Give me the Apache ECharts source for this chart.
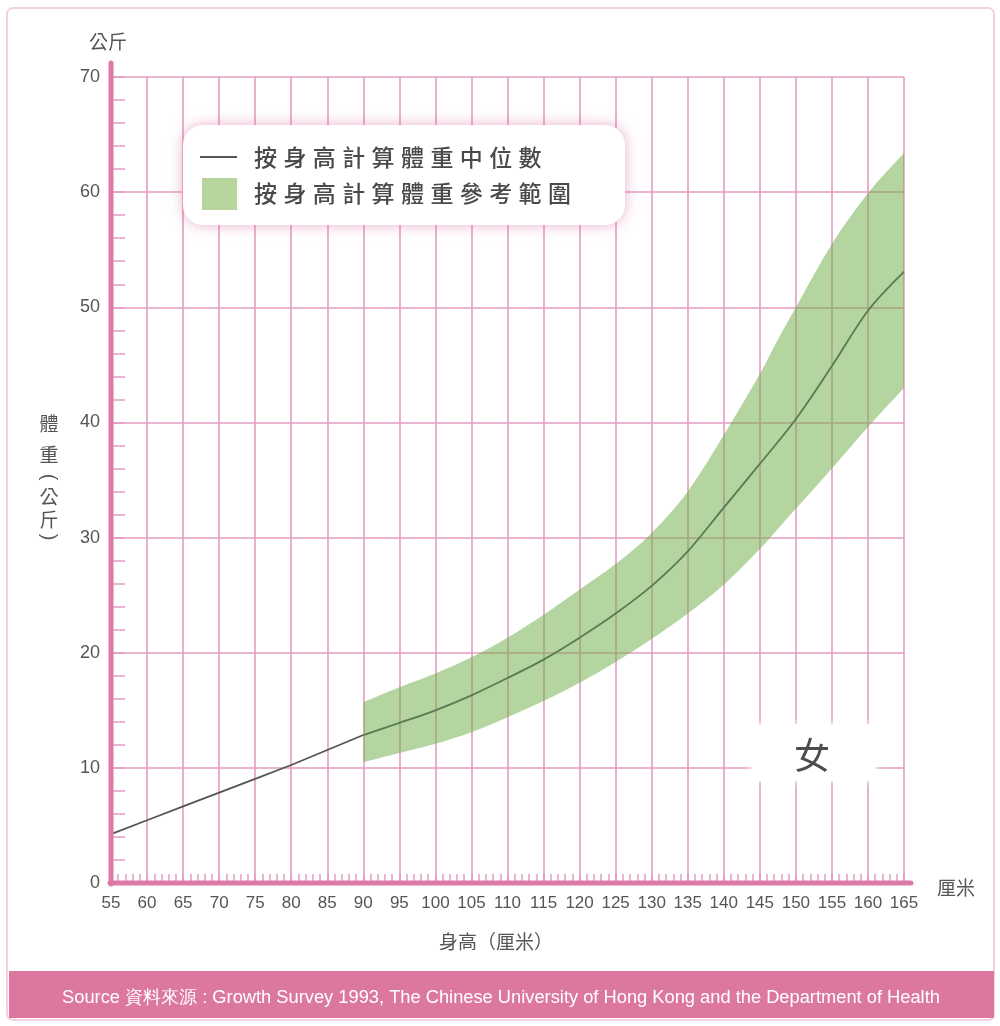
<!DOCTYPE html>
<html>
<head>
<meta charset="utf-8">
<script src="https://cdn.jsdelivr.net/npm/echarts@6/dist/echarts.min.js"></script>
<style>
  html, body { margin: 0; padding: 0; background: #fff; }
  #chart { width: 1000px; height: 1026px; }
</style>
</head>
<body>
<div id="chart"></div>
<script>
// 按身高計算體重中位數（女）
const medianHeights = [55, 60, 65, 70, 75, 80, 85, 90, 95, 100, 105, 110, 115, 120, 125, 130, 135, 140, 145, 150, 155, 160, 165]
const medianWeights = [4.25, 5.45, 6.65, 7.85, 9.05, 10.25, 11.55, 12.85, 13.9, 15.0, 16.3, 17.8, 19.4, 21.3, 23.4, 25.8, 28.8, 32.6, 36.4, 40.3, 44.9, 49.7, 53.1]

// 參考範圍 上下限
const bandHeights = [90, 95, 100, 105, 110, 115, 120, 125, 130, 135, 140, 145, 147, 150, 155, 160, 165]
const bandLower = [10.5, 11.3, 12.1, 13.1, 14.4, 15.8, 17.4, 19.2, 21.2, 23.4, 25.9, 29.0, 30.4, 32.5, 36.0, 39.6, 43.0]
const bandUpper = [15.7, 17.0, 18.2, 19.6, 21.3, 23.3, 25.5, 27.7, 30.4, 34.0, 38.9, 44.2, 46.6, 50.0, 55.5, 59.9, 63.4]

const legendNames = ['按身高計算體重中位數', '按身高計算體重參考範圍']
const sourceText = 'Source 資料來源 : Growth Survey 1993, The Chinese University of Hong Kong and the Department of Health'

const PINK = '#e59cc1'
const PINK_DARK = '#dc7aa6'
const TEXT = '#555'
const CJK = '"Noto Sans CJK TC", "Noto Sans CJK SC", sans-serif'
const NUM = '"Liberation Sans", Arial, sans-serif'

const chart = echarts.init(document.getElementById('chart'))

// 中位數線：90厘米前灰色直線，之後深綠曲線
const splitAt = medianHeights.indexOf(90)
const medianPts = medianHeights.map((h, i) => [h, medianWeights[i]])

// Catmull-Rom 轉貝茲曲線（像素座標）
function curveTo(pts) {
  let d = ''
  for (let i = 0; i < pts.length - 1; i++) {
    const p0 = pts[i - 1] || pts[i]
    const p1 = pts[i]
    const p2 = pts[i + 1]
    const p3 = pts[i + 2] || p2
    const c1 = [p1[0] + (p2[0] - p0[0]) / 6, p1[1] + (p2[1] - p0[1]) / 6]
    const c2 = [p2[0] - (p3[0] - p1[0]) / 6, p2[1] - (p3[1] - p1[1]) / 6]
    d += ' C' + c1.join(' ') + ' ' + c2.join(' ') + ' ' + p2.join(' ')
  }
  return d
}

function renderBand(params, api) {
  if (params.dataIndex !== 0) return null
  const up = bandHeights.map((h, i) => api.coord([h, bandUpper[i]]))
  const lo = bandHeights.map((h, i) => api.coord([h, bandLower[i]])).reverse()
  const d = 'M' + up[0].join(' ') + curveTo(up) + ' L' + lo[0].join(' ') + curveTo(lo) + ' Z'
  return {
    type: 'path',
    shape: { pathData: d },
    style: { fill: 'rgb(112, 174, 72)', opacity: 0.52 }
  }
}

function renderMedian(params, api) {
  if (params.dataIndex !== 0) return null
  const pts = medianPts.slice(splitAt).map(p => api.coord(p))
  return {
    type: 'path',
    shape: { pathData: 'M' + pts[0].join(' ') + curveTo(pts) },
    style: { fill: null, stroke: '#587b53', lineWidth: 1.8 }
  }
}

// 逐字排版（字距較寬）
function spacedText(str, x0, y, pitch, size) {
  return str.split('').map((ch, i) => ({
    type: 'text',
    z: 32,
    x: x0 + i * pitch,
    y: y,
    style: { text: ch, fill: '#4a4a4a', font: '500 ' + size + 'px ' + CJK, verticalAlign: 'middle' }
  }))
}

function charText(ch, x, y, size) {
  return {
    type: 'text', x: x, y: y,
    style: { text: ch, fill: TEXT, font: size + 'px ' + CJK, align: 'center', verticalAlign: 'middle' }
  }
}

// 直排括號：半形括號轉 90 度
function vParen(ch, x, y) {
  return {
    type: 'text', x: x, y: y, rotation: -Math.PI / 2,
    style: { text: ch, fill: TEXT, font: '20px ' + NUM, align: 'center', verticalAlign: 'middle' }
  }
}

const graphics = [
  // 外框
  { type: 'rect', z: -10, shape: { x: 7, y: 8, width: 987, height: 1012, r: 6 },
    style: { fill: '#fff', stroke: '#f3cfe0', lineWidth: 2 } },
  // 資料來源
  { type: 'rect', z: 5, shape: { x: 9, y: 971, width: 985, height: 47 }, style: { fill: '#dc789f' } },
  { type: 'text', z: 6, x: 501, y: 998,
    style: { text: sourceText, fill: '#fff', font: '18.3px ' + NUM, align: 'center', verticalAlign: 'middle' } },
  // 軸線
  { type: 'line', z: 20, shape: { x1: 111, y1: 63, x2: 111, y2: 884 },
    style: { stroke: PINK_DARK, lineWidth: 5, lineCap: 'round' } },
  { type: 'line', z: 20, shape: { x1: 110, y1: 883, x2: 911, y2: 883 },
    style: { stroke: PINK_DARK, lineWidth: 5, lineCap: 'round' } },
  // 軸名
  charText('公斤', 108, 42, 19),
  charText('厘米', 956, 888, 19),
  charText('身高（厘米）', 496, 942, 19),
  charText('體', 49, 424, 19),
  charText('重', 49, 455, 19),
  vParen('(', 49, 477),
  charText('公', 49, 497, 19),
  charText('斤', 49, 520, 19),
  vParen(')', 49, 537),
  // 圖例
  { type: 'rect', z: 30, shape: { x: 183, y: 125, width: 442, height: 100, r: 20 },
    style: { fill: '#fff', shadowBlur: 14, shadowColor: 'rgba(214, 110, 160, 0.55)' } },
  { type: 'line', z: 31, shape: { x1: 200, y1: 157, x2: 237, y2: 157 }, style: { stroke: '#555', lineWidth: 2 } },
  { type: 'rect', z: 31, shape: { x: 202, y: 178, width: 35, height: 32 }, style: { fill: '#b7d59c' } }
].concat(
  spacedText(legendNames[0], 254, 157, 29.4, 23),
  spacedText(legendNames[1], 254, 193, 29.4, 23),
  [
    // 女
    { type: 'rect', z: 30, shape: { x: 752, y: 724, width: 124, height: 57, r: 8 },
      style: { fill: '#fff', shadowBlur: 8, shadowColor: '#fff' } },
    { type: 'text', z: 31, x: 812, y: 755,
      style: { text: '女', fill: '#4d4d4d', font: '36px ' + CJK, align: 'center', verticalAlign: 'middle' } }
  ]
)

chart.setOption({
  animation: false,
  backgroundColor: '#fff',
  grid: { left: 111, top: 77, width: 793, height: 806 },
  xAxis: {
    type: 'value', min: 55, max: 165, interval: 5,
    axisLine: { show: false },
    axisTick: { show: true, inside: true, length: 9, lineStyle: { color: PINK, width: 1.5 } },
    minorTick: { show: true, splitNumber: 5, length: 9, lineStyle: { color: PINK, width: 1.5 } },
    splitLine: { show: true, lineStyle: { color: PINK, width: 1.6 } },
    axisLabel: { color: TEXT, fontSize: 17, fontFamily: NUM, margin: 12, showMinLabel: true, showMaxLabel: true }
  },
  yAxis: {
    type: 'value', min: 0, max: 70, interval: 10,
    axisLine: { show: false },
    axisTick: { show: true, inside: true, length: 14, lineStyle: { color: PINK, width: 1.5 } },
    minorTick: { show: true, splitNumber: 5, length: 14, lineStyle: { color: PINK, width: 1.5 } },
    splitLine: { show: true, lineStyle: { color: PINK, width: 1.6 } },
    axisLabel: { color: TEXT, fontSize: 18, fontFamily: NUM, margin: 11, padding: [8, 0, 0, 0] }
  },
  series: [
    {
      name: legendNames[1], type: 'custom', silent: true,
      renderItem: renderBand,
      encode: { x: 0, y: [1, 2] },
      data: bandHeights.map((h, i) => [h, bandLower[i], bandUpper[i]])
    },
    {
      name: legendNames[0], type: 'line', symbol: 'none', silent: true,
      lineStyle: { width: 1.8, color: '#555' },
      data: medianPts.slice(0, splitAt + 1)
    },
    {
      name: legendNames[0], type: 'custom', silent: true,
      renderItem: renderMedian,
      encode: { x: 0, y: 1 },
      data: medianPts.slice(splitAt)
    }
  ],
  graphic: graphics
})
</script>
</body>
</html>
